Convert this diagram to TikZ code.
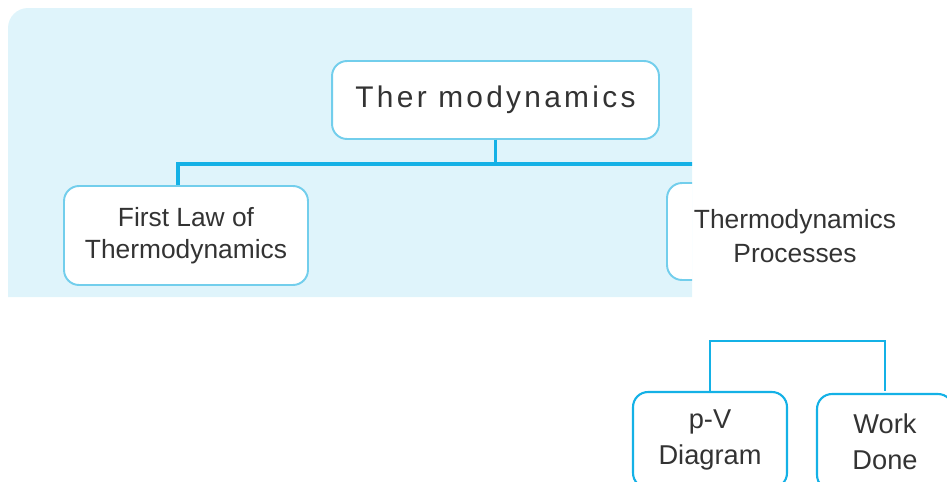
\documentclass[tikz,border=0pt]{standalone}
\usepackage{fontspec}
\setmainfont{Liberation Sans}
\newfontfamily\spacedfont[LetterSpace=11]{Liberation Sans}
\usetikzlibrary{positioning}
\definecolor{panelblue}{HTML}{DFF4FB}
\definecolor{linkblue}{HTML}{14B1E6}
\definecolor{edgeblue}{HTML}{72CEEC}
\definecolor{textgray}{HTML}{333333}

\begin{document}
\begin{tikzpicture}[x=0.02cm,y=-0.02cm,
    topbox/.style={draw=edgeblue,line width=1.1pt,fill=white,rounded corners=0.3cm,inner sep=0pt,
      align=center,text=textgray,font=\fontsize{15}{18.5}\selectfont},
    lowbox/.style={draw=linkblue,line width=1.2pt,fill=white,rounded corners=0.3cm,inner sep=0pt,
      align=center,text=textgray,font=\fontsize{15.5}{20.5}\selectfont,minimum height=1.92cm},
    link/.style={draw=linkblue,line width=2pt},
    lowlink/.style={draw=linkblue,line width=1.2pt}]
    \useasboundingbox (0,0) rectangle (947,481);
    \clip (0,0) rectangle (947,481);

    % shade panel
    \fill[panelblue] (8,297) [rounded corners=0.4cm] -- (8,8) [sharp corners] -- (692,8) -- (692,297) -- cycle;

    % draw top boxes
    \node[topbox,minimum width=6.54cm,minimum height=1.56cm,font=\fontsize{17}{19}\spacedfont] (thermo) at (495.5,100) {Ther modynamics};
    \node[topbox,minimum width=4.88cm,minimum height=1.98cm] (firstlaw) at (186,235.5) {First Law of\\Thermodynamics};

    % cut-off part of the panel
    \begin{scope}
      \clip (8,8) rectangle (692,297);
      \node[topbox,minimum width=5.12cm,minimum height=1.94cm] (procbox) at (795,231.5) {};
      \draw[link] (thermo.south) -- ++(0,24) -| ([xshift=-0.16cm]firstlaw.north);
      \draw[link] (thermo.south) -- ++(0,24) -| (procbox.north);
    \end{scope}
    \node[align=center,text=textgray,font=\fontsize{15}{19}\selectfont] (proclabel) at (795,236) {Thermodynamics\\Processes};

    % draw lower boxes
    \node[lowbox,minimum width=3.08cm] (pv) at (710,440) {p-V\\Diagram};
    \node[lowbox,minimum width=2.72cm] (work) at (885,442) {Work\\Done};
    \coordinate (split) at (797.5,341);
    \draw[lowlink] (pv.north) |- (split) -| ([yshift=0.04cm]work.north);
\end{tikzpicture}
\end{document}
